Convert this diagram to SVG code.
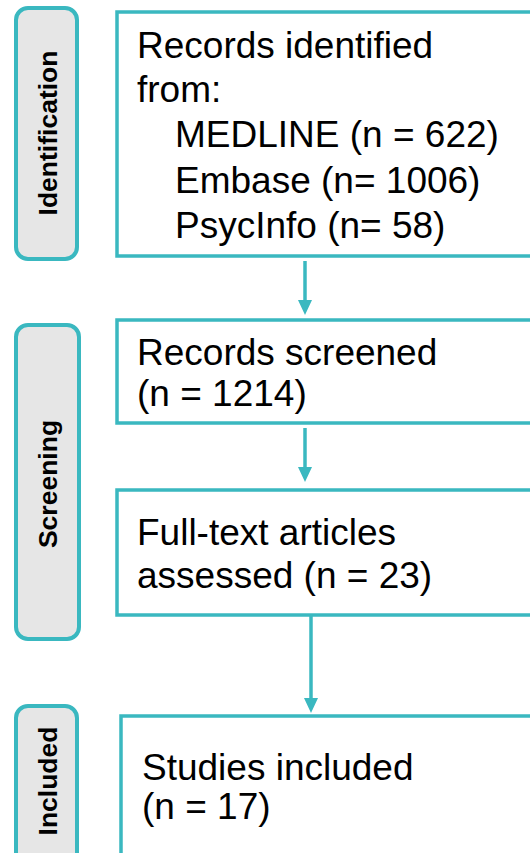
<svg xmlns="http://www.w3.org/2000/svg" width="530" height="853" viewBox="0 0 530 853">
<defs>
<style>
.pill{fill:#E6E6E6;stroke:#3AB8C0;stroke-width:4}
.box{fill:#FFFFFF;stroke:#3AB8C0;stroke-width:3.5}
.lbl{font-family:"Liberation Sans",Arial,sans-serif;font-weight:bold;font-size:26.5px;fill:#000;text-anchor:middle}
.txt{font-family:"Liberation Sans",Arial,sans-serif;font-size:37px;fill:#000}
.conn{stroke:#3AB8C0;stroke-width:3.5;fill:none}
.head{fill:#3AB8C0}
</style>
</defs>
<rect width="530" height="853" fill="#FFFFFF"/>
<g id="identification">
<rect class="pill" x="16" y="8" width="61" height="251" rx="12"/>
<text class="lbl" transform="translate(57,133) rotate(-90)">Identification</text>
</g>
<g id="screening">
<rect class="pill" x="16" y="325" width="63" height="314" rx="12"/>
<text class="lbl" transform="translate(57,484) rotate(-90)">Screening</text>
</g>
<g id="included">
<rect class="pill" x="16" y="706" width="61" height="170" rx="12"/>
<text class="lbl" transform="translate(57,781) rotate(-90)">Included</text>
</g>
<g id="records-identified">
<rect class="box" x="117" y="12" width="430" height="244"/>
<text class="txt" x="137" y="58">Records identified</text>
<text class="txt" x="137" y="102">from:</text>
<text class="txt" x="175" y="147">MEDLINE (n = 622)</text>
<text class="txt" x="175" y="193">Embase (n= 1006)</text>
<text class="txt" x="175" y="238">PsycInfo (n= 58)</text>
</g>
<g id="records-screened">
<rect class="box" x="117" y="320" width="430" height="103"/>
<text class="txt" x="137" y="365">Records screened</text>
<text class="txt" x="137" y="406">(n = 1214)</text>
</g>
<g id="full-text">
<rect class="box" x="117" y="490" width="430" height="125"/>
<text class="txt" x="137" y="545">Full-text articles</text>
<text class="txt" x="137" y="588">assessed (n = 23)</text>
</g>
<g id="studies-included">
<rect class="box" x="121" y="716" width="430" height="160"/>
<text class="txt" x="142" y="780">Studies included</text>
<text class="txt" x="142" y="819">(n = 17)</text>
</g>
<g id="connectors">
<line class="conn" x1="305" y1="261" x2="305" y2="302"/>
<polygon class="head" points="298,300 312,300 305,315"/>
<line class="conn" x1="305" y1="428" x2="305" y2="469"/>
<polygon class="head" points="298,467 312,467 305,482"/>
<line class="conn" x1="311" y1="615" x2="311" y2="700"/>
<polygon class="head" points="304,698 318,698 311,713"/>
</g>
</svg>
